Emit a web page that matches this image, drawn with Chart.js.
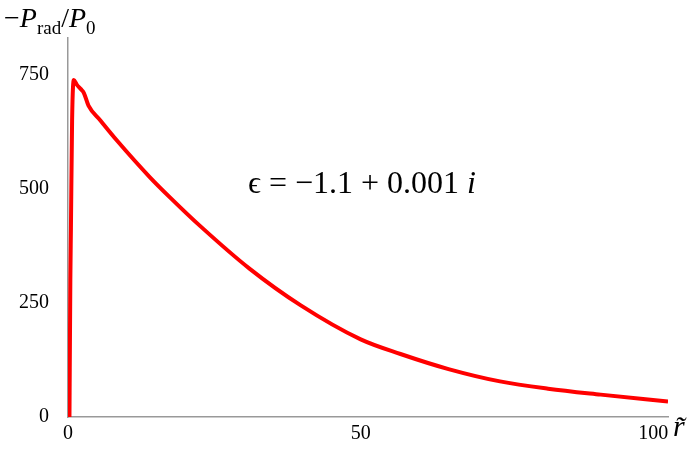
<!DOCTYPE html>
<html>
<head>
<meta charset="utf-8">
<script src="https://cdn.jsdelivr.net/npm/chart.js@4"></script>
<style>
  html, body { margin: 0; padding: 0; background: #fff; }
  #wrap { width: 700px; height: 457px; }
</style>
</head>
<body>
<div id="wrap"><canvas id="c"></canvas></div>
<script>
// 曲线数据 (r, -P_rad/P0)
const rVals = [0.25, 0.4, 0.5, 0.7, 1.0, 1.5, 2.2, 2.7, 3.5, 5.5, 8.4, 14, 17.5, 22.6, 31, 39.7, 50, 56.8, 65, 73.8, 82, 91, 102.5];
const pVals = [0, 300, 413, 650, 738, 728, 718, 710, 682, 650, 605, 525, 480, 418, 325, 245, 170, 138, 105, 78, 62, 49, 34];
const xTicks = [0, 50, 100];
const yTicks = [0, 250, 500, 750];

const FONT = '"Liberation Serif", "DejaVu Serif", serif';

const labelsPlugin = {
    id: 'labels',
    afterDraw(chart) {
        const ctx = chart.ctx;
        ctx.save();
        ctx.fillStyle = '#000';
        ctx.textBaseline = 'alphabetic';
        // 纵轴标题
        let x = 4;
        ctx.font = '28px ' + FONT;
        ctx.fillText('\u2212', x, 27); x += ctx.measureText('\u2212').width;
        ctx.font = 'italic 28px ' + FONT;
        ctx.fillText('P', x, 27); x += ctx.measureText('P').width;
        ctx.font = '19px ' + FONT;
        ctx.fillText('rad', x, 34); x += ctx.measureText('rad').width;
        ctx.font = '28px ' + FONT;
        ctx.fillText('/', x, 27); x += ctx.measureText('/').width;
        ctx.font = 'italic 28px ' + FONT;
        ctx.fillText('P', x, 27); x += ctx.measureText('P').width;
        ctx.font = '19px ' + FONT;
        ctx.fillText('0', x, 34);
        // 横轴标题
        ctx.font = 'italic 30px ' + FONT;
        ctx.fillText('r\u0303', 673, 436);
        // 注释
        let ax = 248;
        const parts = [['\u03f5 = \u22121.1 + 0.001 ', ''], ['i', 'italic ']];
        parts.forEach(([t, s]) => {
            ctx.font = s + '32px ' + FONT;
            ctx.fillText(t, ax, 193);
            ax += ctx.measureText(t).width;
        });
        ctx.restore();
    }
};

new Chart(document.getElementById('c'), {
    type: 'line',
    data: {
        datasets: [{
            data: rVals.map((r, i) => ({ x: r, y: pVals[i] })),
            borderColor: '#ff0000',
            borderWidth: 4,
            pointRadius: 0,
            cubicInterpolationMode: 'monotone',
            fill: false
        }]
    },
    options: {
        responsive: true,
        maintainAspectRatio: false,
        animation: false,
        layout: { padding: { top: 38, right: 32 } },
        plugins: { legend: { display: false }, tooltip: { enabled: false } },
        scales: {
            x: {
                type: 'linear', min: 0, max: 102.5,
                afterBuildTicks: s => { s.ticks = xTicks.map(v => ({ value: v })); },
                afterFit: s => { s.height = 40; },
                grid: { display: false, tickLength: 5, tickColor: '#888' },
                border: { color: '#999', width: 1.5 },
                ticks: { color: '#000', font: { family: FONT, size: 20 }, padding: 0 }
            },
            y: {
                min: 0, max: 830,
                afterBuildTicks: s => { s.ticks = yTicks.map(v => ({ value: v })); },
                afterFit: s => { s.width = 68; },
                grid: { display: false, tickLength: 5, tickColor: '#888' },
                border: { color: '#999', width: 1.5 },
                ticks: { color: '#000', font: { family: FONT, size: 20 }, padding: 14 }
            }
        }
    },
    plugins: [labelsPlugin]
});
</script>
</body>
</html>
